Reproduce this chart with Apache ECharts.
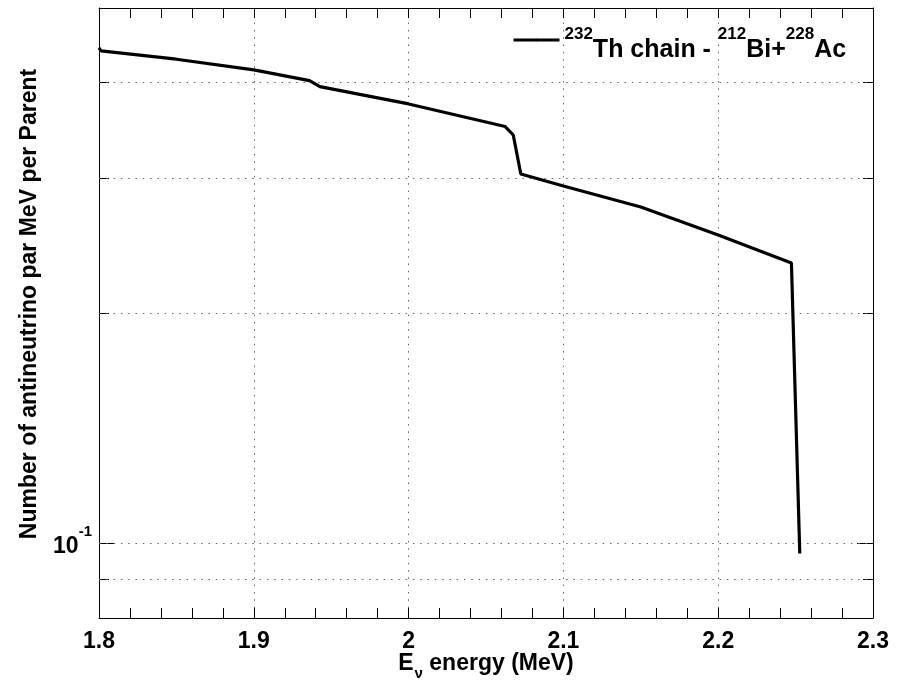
<!DOCTYPE html>
<html>
<head>
<meta charset="utf-8">
<title>232Th chain antineutrino spectrum</title>
<script src="https://cdn.jsdelivr.net/npm/echarts@6/dist/echarts.min.js"></script>
<style>
  html, body { margin: 0; padding: 0; background: #fff; }
  #chart { width: 901px; height: 680px; }
</style>
</head>
<body>
<div id="chart"></div>
<script>
// Antineutrino spectrum of the 232Th chain near its endpoint (212Bi + 228Ac branches)
const energy = [1.8, 1.8013, 1.85, 1.9, 1.936, 1.9427, 2.0, 2.0624, 2.0676, 2.0725, 2.1, 2.15, 2.2, 2.2473, 2.2527];
const spectrum = [0.4435, 0.4395, 0.4287, 0.4151, 0.402, 0.3948, 0.3748, 0.3502, 0.3414, 0.3037, 0.2929, 0.2750, 0.2528, 0.2324, 0.0971];

// Axis ranges and log-axis tick/grid positions
const xRange = [1.8, 2.3];
const xStep = 0.1;
const yRange = [0.08, 0.5];
const yGridValues = [0.09, 0.1, 0.2, 0.3, 0.4];
const yMinorTicks = [0.09, 0.2, 0.3, 0.4];
const yMajorTicks = [0.1];
const seriesName = '232Th chain - 212Bi+228Ac';

const FONT = '"Liberation Sans", Arial, Helvetica, sans-serif';
const gridDots = { type: [1.5, 5.8], color: '#666', width: 1 };

const chart = echarts.init(document.getElementById('chart'), null, { renderer: 'canvas' });

function supExp(v) {
  const e = Math.round(Math.log10(v));
  return '{ten|10}{sup|' + (e < 0 ? '-' + (-e) : String(e)) + '}';
}

const baseX = {
  type: 'value',
  min: xRange[0],
  max: xRange[1],
  interval: xStep,
  axisLine: { show: true, onZero: false, lineStyle: { color: '#000', width: 1 } },
  axisTick: { show: true, inside: true, length: 10, lineStyle: { color: '#000', width: 1 } },
  minorTick: { show: true, splitNumber: 5, length: 10, lineStyle: { color: '#000', width: 1 } }
};

const baseY = {
  type: 'log',
  logBase: 10,
  min: yRange[0],
  max: yRange[1],
  axisLine: { show: true, onZero: false, lineStyle: { color: '#000', width: 1 } },
  splitLine: { show: false }
};

const option = {
  animation: false,
  backgroundColor: '#fff',
  grid: { left: 99, right: 28, top: 8, bottom: 62, containLabel: false, outerBoundsMode: 'none' },
  legend: {
    data: [seriesName],
    left: 507,
    top: 21,
    itemWidth: 46,
    itemHeight: 3,
    selectedMode: false,
    lineStyle: { width: 3, color: '#000' },
    formatter: function () {
      return '{sup|232}{b|Th chain - }{sup|212}{b|Bi+}{sup|228}{b|Ac}';
    },
    textStyle: {
      color: '#000',
      fontFamily: FONT,
      fontWeight: 'bold',
      rich: {
        b: { fontFamily: FONT, fontWeight: 'bold', fontSize: 25, color: '#000', verticalAlign: 'top', padding: [21, 0, 0, 0] },
        sup: { fontFamily: FONT, fontWeight: 'bold', fontSize: 17, color: '#000', verticalAlign: 'top', padding: [9, 0, 0, 0] }
      }
    }
  },
  xAxis: [
    Object.assign({}, baseX, {
      position: 'bottom',
      splitLine: { show: true, lineStyle: gridDots },
      axisLabel: { show: true, margin: 12, color: '#000', fontFamily: FONT, fontWeight: 'bold', fontSize: 23 },
      name: '{b|E}{sub|ν}{b| energy (MeV)}',
      nameLocation: 'middle',
      nameGap: 34,
      nameMoveOverlap: false,
      nameTextStyle: {
        color: '#000',
        rich: {
          b: { fontFamily: FONT, fontWeight: 'bold', fontSize: 23, color: '#000', verticalAlign: 'top' },
          sub: { fontFamily: FONT, fontWeight: 'bold', fontSize: 15, color: '#000', verticalAlign: 'top', padding: [14, 0, 0, 1] }
        }
      }
    }),
    Object.assign({}, baseX, {
      position: 'top',
      splitLine: { show: false },
      axisLabel: { show: false }
    })
  ],
  yAxis: [
    Object.assign({}, baseY, {
      position: 'left',
      axisTick: { show: true, inside: true, length: 10, customValues: yMinorTicks, lineStyle: { color: '#000', width: 1 } },
      axisLabel: {
        show: true,
        customValues: yMajorTicks,
        margin: 7,
        formatter: supExp,
        rich: {
          ten: { fontFamily: FONT, fontWeight: 'bold', fontSize: 23, color: '#000', verticalAlign: 'top', padding: [11, 0, 5, 0] },
          sup: { fontFamily: FONT, fontWeight: 'bold', fontSize: 15, color: '#000', verticalAlign: 'top' }
        }
      },
      name: 'Number of antineutrino par MeV per Parent',
      nameLocation: 'middle',
      nameGap: 58,
      nameMoveOverlap: false,
      nameTextStyle: { color: '#000', fontFamily: FONT, fontWeight: 'bold', fontSize: 23, padding: [0, 0, 0, 18] }
    }),
    Object.assign({}, baseY, {
      position: 'right',
      axisTick: { show: true, inside: true, length: 10, customValues: yMinorTicks, lineStyle: { color: '#000', width: 1 } },
      axisLabel: { show: false }
    }),
    Object.assign({}, baseY, {
      position: 'left',
      axisLine: { show: false },
      axisTick: { show: true, inside: true, length: 16, customValues: yMajorTicks, lineStyle: { color: '#000', width: 1 } },
      axisLabel: { show: false }
    }),
    Object.assign({}, baseY, {
      position: 'right',
      axisLine: { show: false },
      axisTick: { show: true, inside: true, length: 16, customValues: yMajorTicks, lineStyle: { color: '#000', width: 1 } },
      axisLabel: { show: false }
    })
  ],
  series: [
    {
      name: seriesName,
      type: 'line',
      xAxisIndex: 0,
      yAxisIndex: 0,
      data: energy.map(function (e, i) { return [e, spectrum[i]]; }),
      symbol: 'none',
      showSymbol: false,
      lineStyle: { color: '#000', width: 3.2 },
      itemStyle: { color: '#000' },
      z: 5,
      markLine: {
        silent: true,
        symbol: ['none', 'none'],
        label: { show: false },
        lineStyle: gridDots,
        data: yGridValues.map(function (v) { return { yAxis: v }; })
      }
    }
  ]
};

chart.setOption(option);
</script>
</body>
</html>
